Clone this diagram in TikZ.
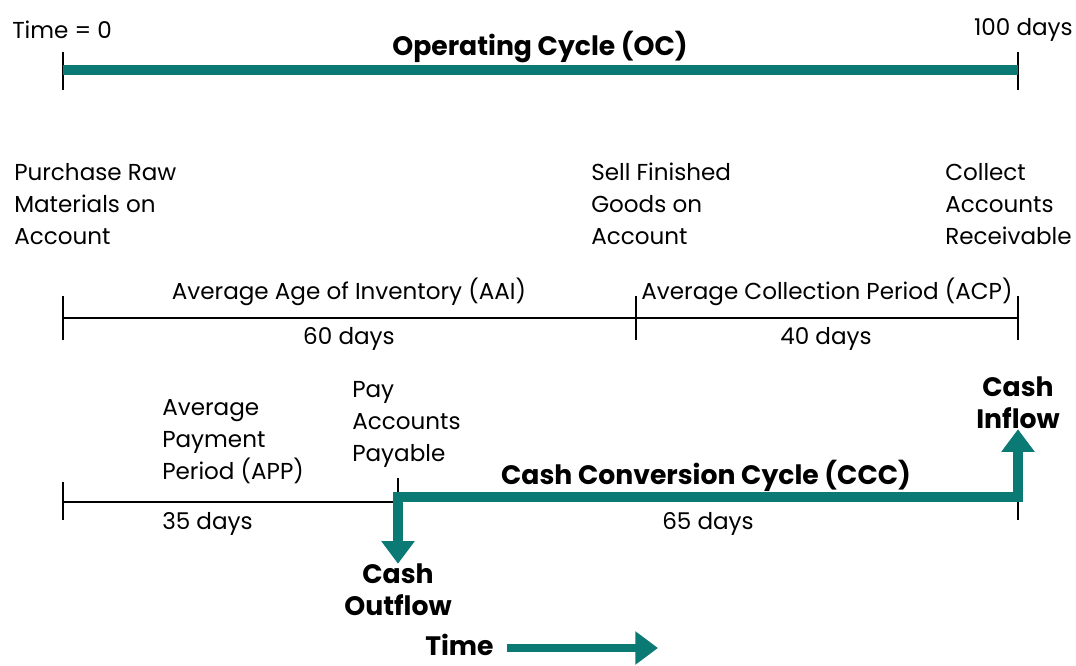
\documentclass[tikz,border=0pt]{standalone}
\usepackage{fontspec}
\setmainfont{Poppins}
\usetikzlibrary{arrows.meta, positioning, calc}
\definecolor{cycleteal}{HTML}{0B7A75}
\tikzset{
    lbl/.style={inner sep=0pt, font=\fontsize{17.3}{24}\selectfont},
    lbllines/.style={lbl, align=left, anchor=north west},
    boldlbl/.style={inner sep=0pt, font=\fontsize{20}{24}\selectfont\bfseries, align=center},
    tick/.style={line width=1.2pt},
    thin line/.style={line width=0.9pt},
    teal bar/.style={line width=7.5pt, cycleteal},
    teal arrow/.style={line width=7.5pt, cycleteal, -{Triangle[length=17pt, width=24pt]}}
}
\begin{document}
\begin{tikzpicture}[x=0.75pt, y=-0.75pt]
    \useasboundingbox (0,0) rectangle (1076,666);

    % Operating cycle
    \coordinate (ocL) at (63,70);
    \coordinate (ocR) at (1018,70);
    \draw[tick] (63,52) -- (63,90);
    \draw[tick] (1018,52) -- (1018,90);
    \draw[teal bar] (ocL) -- (ocR);
    \node[lbl, anchor=west] (tzero) at (12,30) {Time = 0};
    \node[lbl, anchor=east] (thundred) at (1073,30) {100 days};
    \node[boldlbl] (oc) at (540,47) {Operating Cycle (OC)};

    % Events
    \node[lbllines] (purchase) at (14,163) {Purchase Raw\\Materials on\\Account};
    \node[lbllines] (sell) at (591,163) {Sell Finished\\Goods on\\Account};
    \node[lbllines] (collect) at (945,163) {Collect\\Accounts\\Receivable};

    % AAI and ACP
    \coordinate (mL) at (63,318);
    \coordinate (mM) at (636,318);
    \coordinate (mR) at (1018,318);
    \draw[thin line] (mL) -- (mM) -- (mR);
    \foreach \x in {63,636,1018}
        \draw[tick] (\x,296) -- (\x,340);
    \node[lbl] (aai) at (349,292) {Average Age of Inventory (AAI)};
    \node[lbl] (sixty) at (349,339) {60 days};
    \node[lbl] (acp) at (827,292) {Average Collection Period (ACP)};
    \node[lbl] (forty) at (826,339) {40 days};

    % APP and CCC
    \coordinate (bL) at (63,502);
    \coordinate (bM) at (398,502);
    \coordinate (bR) at (1018,502);
    \draw[thin line] (bL) -- (bM);
    \draw[tick] (63,482) -- (63,520);
    \draw[tick] (398,478) -- (398,502);
    \draw[tick] (1018,502) -- (1018,520);
    \node[lbllines] (app) at (162,399) {Average\\Payment\\Period (APP)};
    \node[lbl, anchor=west] (thirtyfive) at (162,524) {35 days};
    \node[lbllines] (pay) at (352,381) {Pay\\Accounts\\Payable};
    \node[boldlbl] (ccc) at (706,476) {Cash Conversion Cycle (CCC)};
    \node[lbl] (sixtyfive) at (708,524) {65 days};
    \node[boldlbl] (outflow) at (398,590) {Cash\\Outflow};
    \node[boldlbl] (inflow) at (1018,403) {Cash\\Inflow};
    \coordinate (cccL) at ($(bM)+(0,-5)$);
    \coordinate (cccR) at ($(bR)+(0,-5)$);
    \draw[teal arrow] ($(bM)+(0,-10)$) -- (outflow.north);
    \draw[teal bar] (cccL) -- (cccR);
    \draw[teal arrow] ($(cccR)+(0,5)$) -- (inflow.south);

    % Time
    \node[boldlbl, anchor=west] (time) at (425,645) {Time};
    \coordinate (timeEnd) at (658,648);
    \draw[teal arrow, line width=6pt] ([xshift=10pt]time.east |- timeEnd) -- (timeEnd);
\end{tikzpicture}
\end{document}
